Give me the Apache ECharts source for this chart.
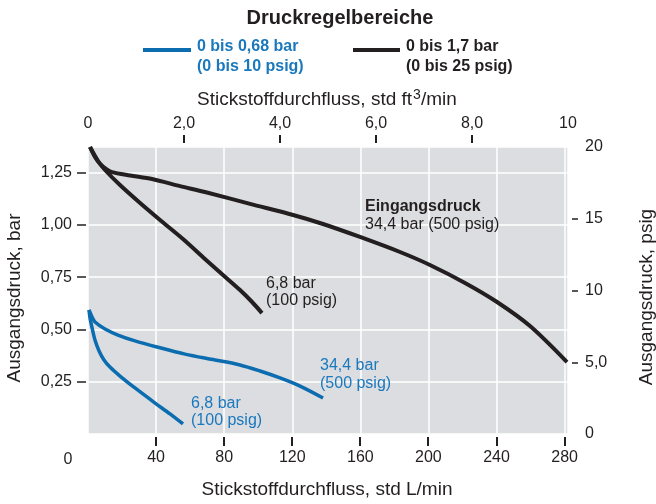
<!DOCTYPE html>
<html>
<head>
<meta charset="utf-8">
<script src="https://cdn.jsdelivr.net/npm/echarts@6/dist/echarts.min.js"></script>
<style>
  html, body { margin: 0; padding: 0; background: #ffffff; }
  #chart { width: 656px; height: 504px; }
</style>
</head>
<body>
<div id="chart"></div>
<script>
// Axis ticks
const flowTicksLmin = [40, 80, 120, 160, 200, 240, 280];
const flowTicksCfm = [0, 2, 4, 6, 8, 10];
const cfmTickMarks = [2, 4, 6, 8];
const barTicks = [0.25, 0.5, 0.75, 1.0, 1.25];
const psigTicks = [0, 5, 10, 15, 20];

// Regler 0 bis 1,7 bar, Eingangsdruck 34,4 bar (500 psig)
const hiFlow500 = [1.2, 4.1, 7.1, 10.6, 14.1, 24.7, 37.6, 54.1, 68.7, 95.2, 120.5, 138.1, 159.8, 183.3, 200.9, 221.5, 240.3, 259.7, 281.4];
const hiBar500  = [1.372, 1.324, 1.291, 1.267, 1.252, 1.236, 1.219, 1.185, 1.157, 1.100, 1.047, 1.004, 0.942, 0.870, 0.808, 0.722, 0.631, 0.516, 0.344];

// Regler 0 bis 1,7 bar, Eingangsdruck 6,8 bar (100 psig)
const hiFlow100 = [1.2, 5.9, 10.0, 18.8, 30.6, 42.3, 55.8, 68.7, 79.3, 89.3, 96.4, 102.2];
const hiBar100  = [1.372, 1.305, 1.262, 1.190, 1.104, 1.023, 0.932, 0.837, 0.760, 0.688, 0.631, 0.578];

// Regler 0 bis 0,68 bar, Eingangsdruck 34,4 bar (500 psig)
const loFlow500 = [0.6, 2.4, 4.1, 10.0, 17.6, 27.6, 40.5, 57.0, 74.6, 89.3, 101.1, 112.8, 124.6, 138.1];
const loBar500  = [0.593, 0.559, 0.535, 0.502, 0.473, 0.445, 0.416, 0.382, 0.354, 0.330, 0.301, 0.268, 0.229, 0.172];

// Regler 0 bis 0,68 bar, Eingangsdruck 6,8 bar (100 psig)
const loFlow100 = [0.6, 1.2, 2.4, 4.1, 6.5, 9.4, 12.9, 18.8, 27.6, 39.4, 48.2, 55.8];
const loBar100  = [0.593, 0.554, 0.507, 0.449, 0.397, 0.354, 0.320, 0.277, 0.220, 0.148, 0.096, 0.048];

const INK = '#231f20';
const BLUE = '#0b6cb0';
const BLUE_TEXT = '#1a78bd';
const GRID_BG = '#dcdde0';
const FONT = "'Liberation Sans', Arial, Helvetica, sans-serif";

const zip = (xs, ys) => xs.map((x, i) => [x, ys[i]]);
const comma = (v, d) => v.toFixed(d).replace('.', ',');

function curve(name, xs, ys, color, width) {
  return {
    name, type: 'line', xAxisIndex: 0, yAxisIndex: 0,
    data: zip(xs, ys),
    smooth: 0.3,
    symbol: 'none',
    lineStyle: { color, width, cap: 'butt', join: 'round' },
    z: 3, silent: true, animation: false
  };
}

const tickLabel = { color: INK, fontFamily: FONT, fontSize: 16 };
const tickStyle = { color: INK, width: 1.5 };
const gridLine = { show: true, lineStyle: { color: '#ffffff', width: 1.5 } };
const noLine = { show: false, onZero: false };

const textEl = (x, y, text, fill, font, extra) =>
  ({ type: 'text', z: 100, x, y, ...(extra || {}), style: { text, fill, font, verticalAlign: 'middle', ...((extra && extra.style) || {}) } });

// Legende, Achsentitel und Kurvenbeschriftungen
const labelElements = [
  { type: 'rect', z: 100, shape: { x: 143, y: 48, width: 48, height: 4 }, style: { fill: BLUE }, silent: true },
  textEl(197, 47, '0 bis 0,68 bar', BLUE_TEXT, `bold 16px ${FONT}`),
  textEl(197, 67, '(0 bis 10 psig)', BLUE_TEXT, `bold 16px ${FONT}`),
  { type: 'rect', z: 100, shape: { x: 353, y: 48, width: 47, height: 4 }, style: { fill: INK }, silent: true },
  textEl(406, 47, '0 bis 1,7 bar', INK, `bold 16px ${FONT}`),
  textEl(406, 67, '(0 bis 25 psig)', INK, `bold 16px ${FONT}`),

  textEl(197, 100, 'Stickstoffdurchfluss, std ft', INK, `19px ${FONT}`),
  textEl(413, 95, '3', INK, `14px ${FONT}`),
  textEl(421, 100, '/min', INK, `19px ${FONT}`),
  textEl(327, 490, 'Stickstoffdurchfluss, std L/min', INK, `19px ${FONT}`, { style: { align: 'center' } }),
  textEl(15, 298, 'Ausgangsdruck, bar', INK, `19px ${FONT}`, { rotation: Math.PI / 2, style: { align: 'center' } }),
  textEl(647, 297, 'Ausgangsdruck, psig', INK, `19px ${FONT}`, { rotation: Math.PI / 2, style: { align: 'center' } }),
  textEl(68, 460, '0', INK, `16px ${FONT}`, { style: { align: 'center' } }),

  textEl(365, 207, 'Eingangsdruck', INK, `bold 16px ${FONT}`),
  textEl(365, 225, '34,4 bar (500 psig)', INK, `16px ${FONT}`),
  textEl(266, 284, '6,8 bar', INK, `16px ${FONT}`),
  textEl(266, 301, '(100 psig)', INK, `16px ${FONT}`),
  textEl(320, 366, '34,4 bar', BLUE_TEXT, `16px ${FONT}`),
  textEl(320, 384, '(500 psig)', BLUE_TEXT, `16px ${FONT}`),
  textEl(191, 404, '6,8 bar', BLUE_TEXT, `16px ${FONT}`),
  textEl(191, 421, '(100 psig)', BLUE_TEXT, `16px ${FONT}`)
];

const chart = echarts.init(document.getElementById('chart'), null, { renderer: 'canvas' });

chart.setOption({
  animation: false,
  backgroundColor: '#ffffff',
  title: {
    text: 'Druckregelbereiche',
    left: 335, top: 3, textAlign: 'center',
    textStyle: { color: INK, fontFamily: FONT, fontSize: 20, fontWeight: 'bold' }
  },
  grid: {
    left: 88, right: 88, top: 147, bottom: 70,
    show: true, backgroundColor: GRID_BG, borderWidth: 0
  },
  xAxis: [
    {
      // L/min, unten
      type: 'value', position: 'bottom', min: 0, max: 282, interval: 40, offset: 3,
      axisLine: noLine,
      axisTick: { show: false },
      axisLabel: { ...tickLabel, margin: 13, customValues: flowTicksLmin },
      splitLine: { show: false }
    },
    {
      // ft3/min, oben
      type: 'value', position: 'top', min: 0, max: 10, interval: 2, offset: 4,
      axisLine: noLine,
      axisTick: { show: false },
      axisLabel: {
        ...tickLabel, margin: 11, customValues: flowTicksCfm,
        formatter: v => (v === 0 || v === 10) ? String(v) : comma(v, 1)
      },
      splitLine: { show: false }
    },
    {
      // Gitterlinien
      type: 'value', position: 'bottom', min: 0, max: 282, interval: 40,
      axisLine: noLine, axisTick: { show: false }, axisLabel: { show: false },
      splitLine: gridLine
    }
  ],
  yAxis: [
    {
      // bar, links
      type: 'value', position: 'left', min: 0, max: 1.372, interval: 0.25, offset: 2,
      axisLine: noLine,
      axisTick: { show: true, length: 9, customValues: barTicks, lineStyle: tickStyle },
      axisLabel: { ...tickLabel, margin: 14, customValues: barTicks, formatter: v => comma(v, 2) },
      splitLine: { show: false }
    },
    {
      // psig, rechts
      type: 'value', position: 'right', min: 0, max: 20, interval: 5, offset: 4,
      axisLine: noLine,
      axisTick: { show: true, length: 6, customValues: [5, 10, 15], lineStyle: tickStyle },
      axisLabel: {
        ...tickLabel, margin: 13, customValues: psigTicks,
        formatter: v => v === 5 ? '5,0' : String(v)
      },
      splitLine: { show: false }
    },
    {
      // Gitterlinien
      type: 'value', position: 'left', min: 0, max: 1.372, interval: 0.25,
      axisLine: noLine, axisTick: { show: false }, axisLabel: { show: false },
      splitLine: gridLine
    }
  ],
  series: [
    curve('0 bis 1,7 bar, 34,4 bar', hiFlow500, hiBar500, INK, 4),
    curve('0 bis 1,7 bar, 6,8 bar', hiFlow100, hiBar100, INK, 4),
    curve('0 bis 0,68 bar, 34,4 bar', loFlow500, loBar500, BLUE, 3.5),
    curve('0 bis 0,68 bar, 6,8 bar', loFlow100, loBar100, BLUE, 3.5)
  ],
  graphic: { elements: labelElements }
});

// Teilstriche der Durchflussachsen, über die Achsenskalen positioniert
try {
  const tickRect = (p, from, to) => ({
    type: 'rect', z: 120, silent: true,
    shape: { x: Math.round(p[0]) - 1, y: p[1] + Math.min(from, to), width: 2, height: Math.abs(to - from) },
    style: { fill: INK }
  });
  const valid = p => Array.isArray(p) && isFinite(p[0]) && isFinite(p[1]);
  const marks = [];
  flowTicksLmin.forEach(v => {
    const p = chart.convertToPixel({ gridIndex: 0 }, [v, 0]);
    if (valid(p)) marks.push(tickRect(p, 3, 12));
  });
  cfmTickMarks.forEach(v => {
    const p = chart.convertToPixel({ xAxisIndex: 1, yAxisIndex: 1 }, [v, 20]);
    if (valid(p)) marks.push(tickRect(p, -12, -4));
  });
  if (marks.length) {
    chart.setOption({ graphic: { elements: labelElements.concat(marks) } });
  }
} catch (e) {
  // Teilstriche sind optional
}
</script>
</body>
</html>
